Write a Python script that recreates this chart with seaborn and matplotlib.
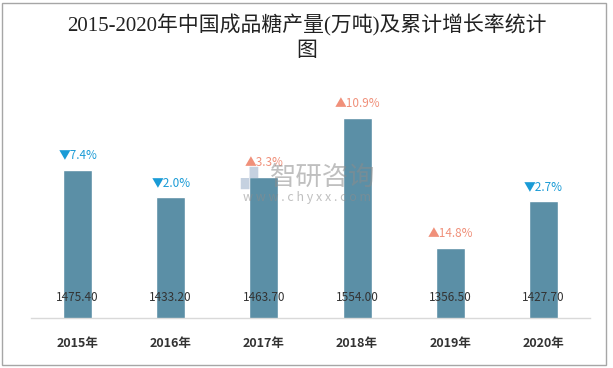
import matplotlib
matplotlib.use('Agg')
import matplotlib.pyplot as plt
import pandas as pd
import seaborn as sns

# Data
years = ['2015年', '2016年', '2017年', '2018年', '2019年', '2020年']
output = [1475.40, 1433.20, 1463.70, 1554.00, 1356.50, 1427.70]
growth = [-7.4, -2.0, 3.3, 10.9, 14.8, -2.7]

df = pd.DataFrame({'year': years, 'output': output, 'growth': growth})

sns.set_theme(style='white')
plt.rcParams['font.family'] = ['Noto Sans CJK SC', 'DejaVu Sans']

bar_color = '#5b8fa6'
up_color = '#f0907a'
down_color = '#1a9bd6'

fig = plt.figure(figsize=(6.13, 3.68), dpi=100)
ax = fig.add_axes([31 / 613, 1 - 318 / 368, 559 / 613, 248 / 368])

sns.barplot(data=df, x='year', y='output', color=bar_color, width=0.31,
            saturation=1, ax=ax)
ax.set_ylim(1250, 1627)
ax.set_xlim(-0.5, len(years) - 0.5)

# value labels near the bottom of each bar
for i, v in enumerate(output):
    ax.annotate(f'{v:.2f}', xy=(i, 1250), xytext=(0, 15), textcoords='offset points',
                ha='center', va='center', fontsize=8.5, color='#333333', zorder=5)

# growth labels above bars
for i, (v, g) in enumerate(zip(output, growth)):
    mark = '▲' if g > 0 else '▼'
    col = up_color if g > 0 else down_color
    ax.annotate(f'{mark}{abs(g):.1f}%', xy=(i, v), xytext=(0, 10.5), textcoords='offset points',
                ha='center', va='center', fontsize=8.5, color=col, zorder=5)

# axes styling
sns.despine(ax=ax, left=True, top=True, right=True)
ax.spines['bottom'].set_color('#d9d9d9')
ax.spines['bottom'].set_linewidth(1)
ax.set_yticks([])
ax.set_xlabel('')
ax.set_ylabel('')
ax.tick_params(axis='x', length=0, pad=14)
for lbl in ax.get_xticklabels():
    lbl.set_fontsize(9)
    lbl.set_fontweight('bold')
    lbl.set_color('#333333')

# title
title_font = ['Liberation Serif', 'Noto Sans CJK SC']
fig.text(0.5, 1 - 25 / 368, '2015-2020年中国成品糖产量(万吨)及累计增长率统计',
         ha='center', va='center', fontsize=15, color='#222222', family=title_font)
fig.text(0.5, 1 - 52 / 368, '图', ha='center', va='center', fontsize=15,
         color='#222222', family=title_font)

# watermark
fig.text(323 / 613, 1 - 177 / 368, '智研咨询', ha='center', va='center',
         fontsize=19, color='#8c8c8c', alpha=0.55, zorder=10)
fig.text(307 / 613, 1 - 197 / 368, 'w w w . c h y x x . c o m', ha='center', va='center',
         fontsize=9, color='#8c8c8c', alpha=0.55, zorder=10)
fig.text(249 / 613, 1 - 178 / 368, '▞', ha='center', va='center',
         fontsize=16, color='#9fb3cc', alpha=0.6, zorder=10, family=['DejaVu Sans'])

# outer frame
frame = plt.Rectangle((2 / 613, 3 / 368), 604 / 613, 362 / 368, transform=fig.transFigure,
                      fill=False, edgecolor='#a6a6a6', linewidth=1)
fig.patches.append(frame)

fig.savefig('out.png', dpi=100)
